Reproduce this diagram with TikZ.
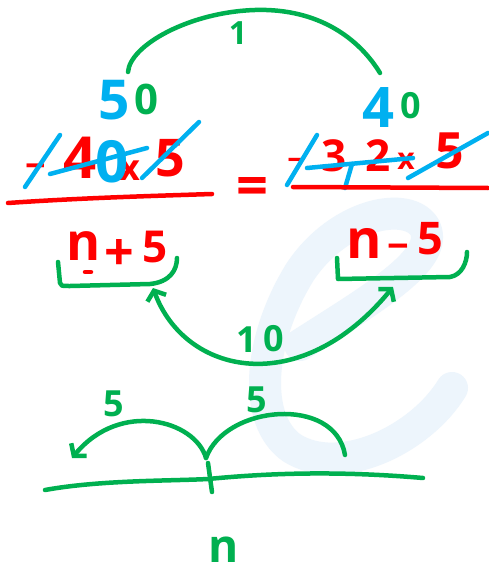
\documentclass[tikz,border=0pt]{standalone}
\usepackage{fontspec}
\setmainfont{Open Sans}
\usetikzlibrary{arrows.meta}
\definecolor{inkred}{HTML}{FF0000}
\definecolor{inkgreen}{HTML}{00B050}
\definecolor{inkblue}{HTML}{00B0F0}
\definecolor{wmark}{HTML}{EDF5FC}
\newcommand\hsz[1]{\fontsize{#1}{#1}\selectfont}
\begin{document}
\begin{tikzpicture}[x=1pt,y=-1pt,
  pen/.style={line width=4.5pt,line cap=round,line join=round},
  txt/.style={inner sep=0pt,outer sep=0pt,anchor=center,font=\bfseries},
  barb/.style={>={Straight Barb[length=8pt,width=20pt]}}]
\useasboundingbox (0,0) rectangle (489,575);
\fill[white] (0,0) rectangle (489,575);
% watermark
\draw[wmark,line width=32pt,line cap=round,line join=round]
  (300,345) .. controls (370,300) and (440,260) .. (425,228)
  .. controls (410,200) and (340,212) .. (300,272)
  .. controls (258,340) and (252,420) .. (292,448)
  .. controls (340,478) and (420,440) .. (452,388);
% top arc with 1
\coordinate (t50) at (128,72);
\coordinate (t40) at (380,73);
\draw[pen,inkgreen] (t50) .. controls (130,45) and (190,12) .. (255,10)
  .. controls (320,8) and (360,40) .. (t40);
\node[txt,inkgreen] (one) at (238,33) {\hsz{32}1};
\node[txt,inkblue] (f5) at (114,100) {\hsz{55}5};
\node[txt,inkgreen] (f0) at (146,99) {\hsz{42}0};
\node[txt,inkblue] (g4) at (378,108) {\hsz{56}4};
\node[txt,inkgreen] (g0) at (411,106) {\hsz{36}0};
% left fraction
\node[txt,inkred] (lm) at (36,171) {\hsz{36}−};
\node[txt,inkred] (l4) at (80,158) {\hsz{58}4};
\node[txt,inkred] (lx) at (130,171) {\hsz{36}x};
\node[txt,inkred] (l5) at (170,158) {\hsz{52}5};
\node[txt,inkblue] (l0) at (112,162) {\hsz{58}0};
\draw[pen,inkblue] (25,187) -- (60,135);
\draw[pen,inkblue] (50,174) -- (147,148);
\draw[pen,inkblue] (142,178) -- (199,122);
\draw[pen,inkred] (8,203) .. controls (80,198) and (150,196) .. (212,194);
% equals
\node[txt,inkred] (eq) at (252,191) {\hsz{56}=};
% right fraction
\node[txt,inkred] (rm) at (296,164) {\hsz{30}−};
\node[txt,inkred] (r3) at (334,156) {\hsz{44}3};
\node[txt,inkred] (r2) at (378,156) {\hsz{44}2};
\node[txt,inkred] (rx) at (406,161) {\hsz{30}x};
\node[txt,inkred] (r5) at (450,151) {\hsz{50}5};
\draw[pen,inkblue] (287,185) -- (317,135);
\draw[pen,inkblue] (307,168) -- (413,158);
\draw[pen,inkblue] (345,188) -- (352,164);
\draw[pen,inkblue] (408,178) -- (488,133);
\draw[pen,inkred] (293,187) -- (488,188);
% n+5 and n-5
\node[txt,inkred] (ln) at (84,246) {\hsz{52}n};
\node[txt,inkred] (lp) at (119,255) {\hsz{52}+};
\node[txt,inkred] (l5b) at (155,247) {\hsz{44}5};
\draw[pen,inkred] (85,272) -- (91,272);
\node[txt,inkred] (rn) at (364,243) {\hsz{54}n};
\node[txt,inkred] (rmi) at (398,252) {\hsz{38}−};
\node[txt,inkred] (r5b) at (430,239) {\hsz{45}5};
\draw[pen,inkgreen] (58,262) -- (60,283) .. controls (61,286) .. (70,286)
  -- (150,284) .. controls (170,282) and (177,270) .. (177,258);
\draw[pen,inkgreen] (337,258) -- (338,279) -- (450,277)
  .. controls (462,275) and (467,262) .. (467,252);
\coordinate (la) at (153,288);
\coordinate (ra) at (393,287);
\draw[pen,inkgreen,barb,<->] (la) .. controls (185,375) and (300,400) .. (ra);
\node[txt,inkgreen] (ten1) at (247,340) {\hsz{36}1};
\node[txt,inkgreen] (ten0) at (274,339) {\hsz{36}0};
% number line
\draw[pen,inkgreen] (45,490) .. controls (100,480) and (170,481) .. (208,479)
  .. controls (260,474) and (330,470) .. (423,478);
\draw[pen,inkgreen] (208,463) -- (212,492);
\coordinate (jn) at (206,458);
\coordinate (jl) at (72,458);
\coordinate (jr) at (345,455);
\draw[pen,inkgreen,barb,->] (jn) .. controls (195,420) and (120,400) .. (jl);
\draw[pen,inkgreen] (jn) .. controls (225,405) and (335,395) .. (jr);
\node[txt,inkgreen] (b5a) at (114,404) {\hsz{36}5};
\node[txt,inkgreen] (b5b) at (257,400) {\hsz{36}5};
\node[txt,inkgreen] (bn) at (224,550) {\hsz{46}n};
\end{tikzpicture}
\end{document}
